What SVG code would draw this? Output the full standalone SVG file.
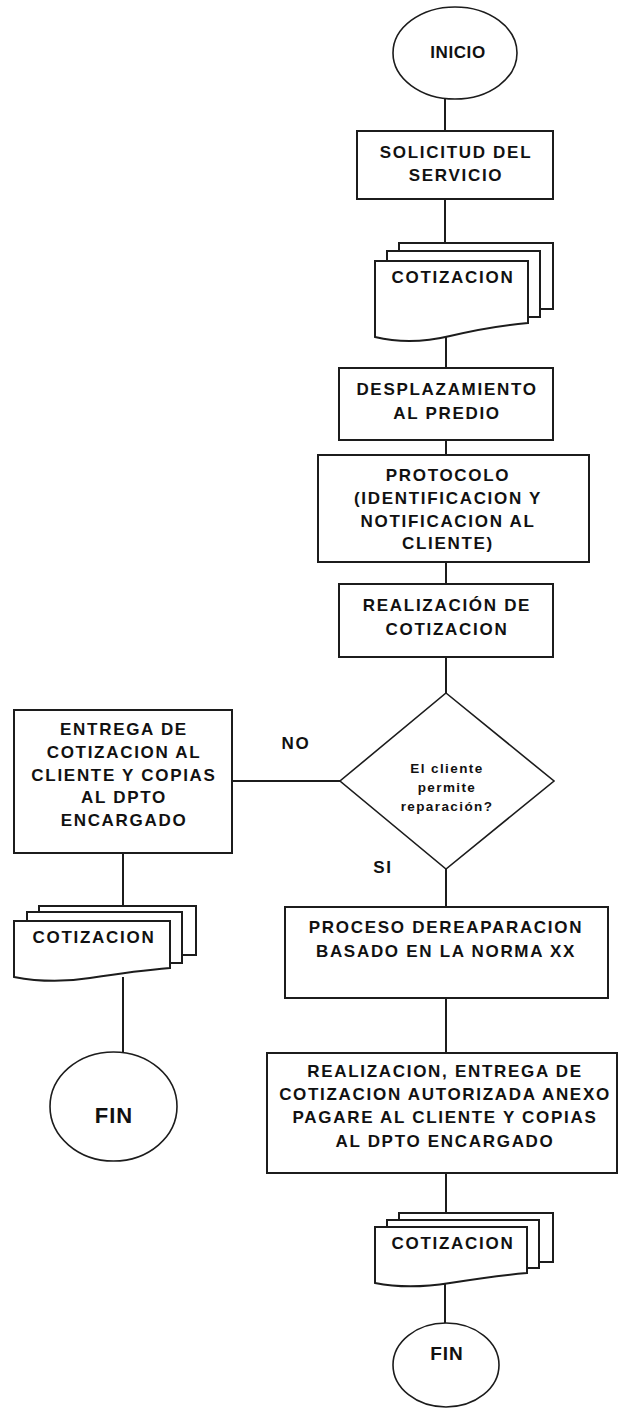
<svg xmlns="http://www.w3.org/2000/svg" width="618" height="1410" viewBox="0 0 618 1410">
<style>
.sh{fill:#fff;stroke:#1c1c1c;stroke-width:2}
.th{fill:#fff;stroke:#1c1c1c;stroke-width:1.6}
.t{font-family:"Liberation Sans",Arial,sans-serif;font-weight:bold;font-size:17px;fill:#111;text-anchor:middle;letter-spacing:1.7px}
.s{font-size:13.5px;letter-spacing:1.4px}
.c{fill:none;stroke:#1c1c1c;stroke-width:2}
</style>
<rect width="618" height="1410" fill="#fff"/>
<g id="connectors">
<path class="c" d="M445,98 V131"/>
<path class="c" d="M445,199 V243"/>
<path class="c" d="M446,337 V368"/>
<path class="c" d="M446,440 V455"/>
<path class="c" d="M446,562 V584"/>
<path class="c" d="M446,657 V693"/>
<path class="c" d="M232,781 H340"/>
<path class="c" d="M446,869 V907"/>
<path class="c" d="M446,998 V1053"/>
<path class="c" d="M446,1173 V1213"/>
<path class="c" d="M445,1284 V1323"/>
<path class="c" d="M123,853 V906"/>
<path class="c" d="M123,977 V1052"/>
</g>
<g id="inicio">
<ellipse class="th" cx="455" cy="53" rx="62" ry="46"/>
<text class="t" x="458" y="58" style="letter-spacing:0.6px">INICIO</text>
</g>
<g id="solicitud">
<rect class="sh" x="357" y="131" width="196" height="68"/>
<text class="t" x="456" y="158">SOLICITUD DEL</text>
<text class="t" x="456" y="181">SERVICIO</text>
</g>
<g id="cotizacion1">
<rect class="sh" x="399" y="243" width="154" height="66"/>
<rect class="sh" x="387" y="251" width="153" height="66"/>
<path class="sh" d="M375,261 H528 V323 C505,325 475,330 450,336 C425,342 400,343 375,337 Z"/>
<text class="t" x="453" y="283">COTIZACION</text>
</g>
<g id="desplazamiento">
<rect class="sh" x="339" y="368" width="214" height="72"/>
<text class="t" x="447" y="395">DESPLAZAMIENTO</text>
<text class="t" x="447" y="419">AL PREDIO</text>
</g>
<g id="protocolo">
<rect class="sh" x="318" y="455" width="271" height="107"/>
<text class="t" x="448" y="481">PROTOCOLO</text>
<text class="t" x="448" y="504">(IDENTIFICACION Y</text>
<text class="t" x="448" y="527">NOTIFICACION AL</text>
<text class="t" x="448" y="549">CLIENTE)</text>
</g>
<g id="realizacion">
<rect class="sh" x="339" y="584" width="214" height="73"/>
<text class="t" x="447" y="611">REALIZACIÓN DE</text>
<text class="t" x="447" y="635">COTIZACION</text>
</g>
<g id="decision">
<path class="th" d="M446,693 L554,781 L446,869 L340,781 Z"/>
<text class="t s" x="447" y="773">El cliente</text>
<text class="t s" x="447" y="792">permite</text>
<text class="t s" x="447" y="811">reparación?</text>
</g>
<g id="label-no"><text class="t" x="296" y="749">NO</text></g>
<g id="label-si"><text class="t" x="383" y="873">SI</text></g>
<g id="entrega">
<rect class="sh" x="14" y="710" width="218" height="143"/>
<text class="t" x="124" y="735">ENTREGA DE</text>
<text class="t" x="124" y="758">COTIZACION AL</text>
<text class="t" x="124" y="781">CLIENTE Y COPIAS</text>
<text class="t" x="124" y="803">AL DPTO</text>
<text class="t" x="124" y="826">ENCARGADO</text>
</g>
<g id="cotizacion2">
<rect class="sh" x="39" y="906" width="157" height="49"/>
<rect class="sh" x="27" y="912" width="155" height="51"/>
<path class="sh" d="M14,921 H170 V968 C146,970 116,974 90,978 C65,982 40,982 14,977 Z"/>
<text class="t" x="94" y="943">COTIZACION</text>
</g>
<g id="fin1">
<ellipse class="th" cx="113.5" cy="1106.5" rx="63.5" ry="54.5"/>
<text class="t" x="114" y="1123" style="font-size:22px;letter-spacing:1px">FIN</text>
</g>
<g id="proceso">
<rect class="sh" x="285" y="907" width="323" height="91"/>
<text class="t" x="446" y="933">PROCESO DEREAPARACION</text>
<text class="t" x="446" y="957">BASADO EN LA NORMA XX</text>
</g>
<g id="entrega2">
<rect class="sh" x="267" y="1053" width="350" height="120"/>
<text class="t" x="445" y="1077">REALIZACION, ENTREGA DE</text>
<text class="t" x="445" y="1100">COTIZACION AUTORIZADA ANEXO</text>
<text class="t" x="445" y="1123">PAGARE AL CLIENTE Y COPIAS</text>
<text class="t" x="445" y="1147">AL DPTO ENCARGADO</text>
</g>
<g id="cotizacion3">
<rect class="sh" x="399" y="1213" width="154" height="49"/>
<rect class="sh" x="387" y="1220" width="152" height="48"/>
<path class="sh" d="M375,1227 H527 V1273 C503,1275 475,1279 450,1283 C425,1287 400,1288 375,1283 Z"/>
<text class="t" x="453" y="1249">COTIZACION</text>
</g>
<g id="fin2">
<ellipse class="th" cx="446" cy="1365" rx="53" ry="42"/>
<text class="t" x="447" y="1360" style="font-size:19px;letter-spacing:1px">FIN</text>
</g>
</svg>
